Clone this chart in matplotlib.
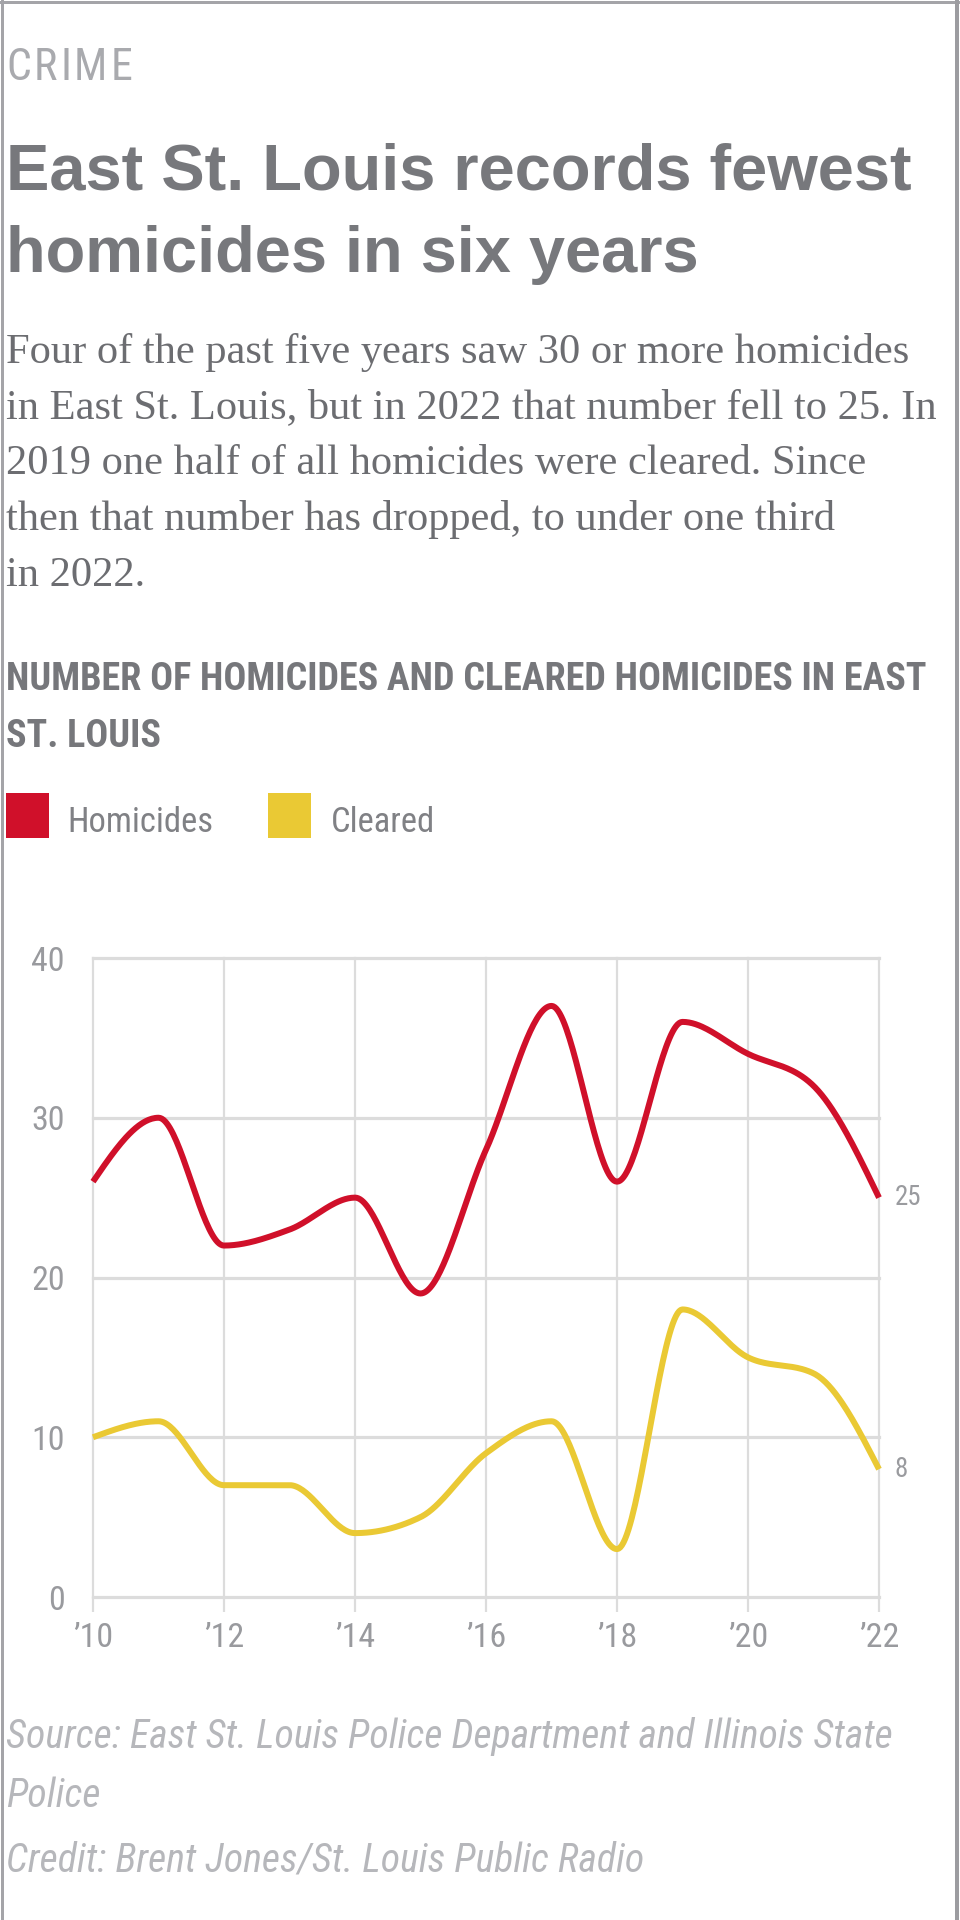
import matplotlib
matplotlib.use("Agg")
import matplotlib.pyplot as plt
import matplotlib.font_manager as fm
from matplotlib.lines import Line2D
import numpy as np

# ---------------- data ----------------
years = [2010, 2011, 2012, 2013, 2014, 2015, 2016, 2017, 2018, 2019, 2020, 2021, 2022]
homicides = [26, 30, 22, 23, 25, 19, 28, 37, 26, 36, 34, 32, 25]
cleared = [10, 11, 7, 7, 4, 5, 9, 11, 3, 18, 15, 14, 8]
series_names = ["Homicides", "Cleared"]
x_ticks = [2010, 2012, 2014, 2016, 2018, 2020, 2022]
x_tick_labels = ["\u201910", "\u201912", "\u201914", "\u201916", "\u201918", "\u201920", "\u201922"]
y_ticks = [0, 10, 20, 30, 40]

kicker = "CRIME"
title_lines = ["East St. Louis records fewest", "homicides in six years"]
para_lines = [
    "Four of the past five years saw 30 or more homicides",
    "in East St. Louis, but in 2022 that number fell to 25. In",
    "2019 one half of all homicides were cleared. Since",
    "then that number has dropped, to under one third",
    "in 2022.",
]
chart_title_lines = ["NUMBER OF HOMICIDES AND CLEARED HOMICIDES IN EAST", "ST. LOUIS"]
source_lines = ["Source: East St. Louis Police Department and Illinois State", "Police"]
credit_line = "Credit: Brent Jones/St. Louis Public Radio"

RED = "#d0102a"
YEL = "#eac934"

# ---------------- fonts ----------------
names = {f.name for f in fm.fontManager.ttflist}
COND = None
COND_STRETCH = "normal"
for n in ["Roboto Condensed", "Liberation Sans Narrow", "Open Sans Condensed", "Noto Sans Condensed", "Arial Narrow"]:
    if n in names:
        COND = n
        break
if COND is None:
    if any(f.name == "DejaVu Sans" and str(f.stretch) in ("condensed", "semi-condensed") for f in fm.fontManager.ttflist):
        COND = "DejaVu Sans"
        COND_STRETCH = "condensed"
    elif "Roboto" in names:
        COND = "Roboto"
    else:
        COND = "DejaVu Sans"
BOLD_SANS = "Liberation Sans" if "Liberation Sans" in names else "DejaVu Sans"
SERIF = "Liberation Serif" if "Liberation Serif" in names else "DejaVu Serif"

W, H = 960, 1920
fig = plt.figure(figsize=(W / 100, H / 100), dpi=100)
fig.patch.set_facecolor("white")
renderer = fig.canvas.get_renderer()


def px2pt(p):
    return p * 0.72


def put(x, y, s, size_px, **kw):
    kw.setdefault("va", "baseline")
    kw.setdefault("ha", "left")
    return fig.text(x / W, 1 - y / H, s, fontsize=px2pt(size_px), **kw)


def fit_size(s, target_w, **kw):
    t = put(0, 0, s, 40, **kw)
    w = t.get_window_extent(renderer).width
    t.remove()
    return 40 * target_w / w


def block(x, ys, lines, size_px, **kw):
    for yy, s in zip(ys, lines):
        put(x, yy, s, size_px, **kw)


cond_kw = dict(family=COND, stretch=COND_STRETCH)

# ---------------- frame ----------------
frame_c = "#a4a4a8"
fig.add_artist(Line2D([1.5 / W, 1.5 / W], [0, 1], transform=fig.transFigure, color=frame_c, lw=px2pt(3)))
fig.add_artist(Line2D([0, 1], [1 - 1.5 / H, 1 - 1.5 / H], transform=fig.transFigure, color=frame_c, lw=px2pt(3)))
fig.add_artist(Line2D([1 - 3 / W, 1 - 3 / W], [0, 1], transform=fig.transFigure, color="#9c9ca0", lw=px2pt(4)))

# ---------------- kicker (tracked letters) ----------------
kick_size = 44
widths = []
for ch in kicker:
    t = put(0, 0, ch, kick_size, weight="normal", **cond_kw)
    widths.append(t.get_window_extent(renderer).width)
    t.remove()
track = max(2.0, (126 - sum(widths)) / (len(kicker) - 1))
xk = 6
for ch, w in zip(kicker, widths):
    put(xk, 80, ch, kick_size, color="#a9aaae", **cond_kw)
    xk += w + track

# ---------------- title ----------------
ts = fit_size(title_lines[0], 906, family=BOLD_SANS, weight="bold")
block(6, [190, 272], title_lines, ts, family=BOLD_SANS, weight="bold", color="#77787c")

# ---------------- paragraph ----------------
ps = fit_size(para_lines[1], 931, family=SERIF)
block(6, [363, 418, 474, 530, 586], para_lines, ps, family=SERIF, color="#6c6d71")

# ---------------- chart title ----------------
cs = fit_size(chart_title_lines[0], 922, weight="bold", **cond_kw)
block(6, [690, 747], chart_title_lines, cs, weight="bold", color="#76777b", **cond_kw)

# ---------------- legend ----------------
ls = fit_size(series_names[0], 146, **cond_kw)
for (x0, col, name, tx) in [(6, RED, series_names[0], 67), (268, YEL, series_names[1], 331)]:
    fig.add_artist(plt.Rectangle((x0 / W, 1 - 838 / H), 43 / W, 45 / H, transform=fig.transFigure,
                                 color=col, lw=0))
    put(tx, 832, name, ls, color="#808185", **cond_kw)

# ---------------- chart ----------------
ax = fig.add_axes([93 / W, 1 - 1597 / H, (879 - 93) / W, (1597 - 958) / H])
ax.set_xlim(2010, 2022)
ax.set_ylim(0, 40)
for sp in ax.spines.values():
    sp.set_visible(False)
ax.set_facecolor("none")

grid_c = "#dcdcdc"
ax.set_yticks(y_ticks)
ax.set_xticks(x_ticks)
ax.set_xticklabels(x_tick_labels)
ax.grid(axis="y", color=grid_c, lw=px2pt(3.2))
ax.grid(axis="x", color=grid_c, lw=px2pt(2.2))
for gl in ax.get_ygridlines() + ax.get_xgridlines():
    gl.set_clip_on(False)
ax.set_axisbelow(True)
tick_size = 34
ax.tick_params(axis="y", length=0, pad=px2pt(28), labelsize=px2pt(tick_size), labelcolor="#999a9e")
ax.tick_params(axis="x", length=px2pt(15), width=px2pt(2.2), color=grid_c, pad=px2pt(10),
               labelsize=px2pt(tick_size), labelcolor="#999a9e")
for lab in ax.get_xticklabels() + ax.get_yticklabels():
    lab.set_family(COND)
    lab.set_stretch(COND_STRETCH)


def monotone_curve(xv, yv, n=40):
    x = np.asarray(xv, float)
    y = np.asarray(yv, float)
    h = np.diff(x)
    s = np.diff(y) / h
    m = np.zeros_like(y)
    for i in range(1, len(y) - 1):
        h0, h1, s0, s1 = h[i - 1], h[i], s[i - 1], s[i]
        p = (s0 * h1 + s1 * h0) / (h0 + h1)
        m[i] = (np.sign(s0) + np.sign(s1)) * min(abs(s0), abs(s1), 0.5 * abs(p))
    m[0] = (3 * s[0] - m[1]) / 2
    m[-1] = (3 * s[-1] - m[-2]) / 2
    xs, ys = [], []
    for i in range(len(x) - 1):
        t = np.linspace(0, 1, n, endpoint=(i == len(x) - 2))
        dx = h[i]
        p0 = np.array([x[i], y[i]])
        p3 = np.array([x[i + 1], y[i + 1]])
        p1 = np.array([x[i] + dx / 3, y[i] + m[i] * dx / 3])
        p2 = np.array([x[i + 1] - dx / 3, y[i + 1] - m[i + 1] * dx / 3])
        b = ((1 - t) ** 3)[:, None] * p0 + (3 * (1 - t) ** 2 * t)[:, None] * p1 + \
            (3 * (1 - t) * t ** 2)[:, None] * p2 + (t ** 3)[:, None] * p3
        xs.append(b[:, 0])
        ys.append(b[:, 1])
    return np.concatenate(xs), np.concatenate(ys)


for vals, col in [(cleared, YEL), (homicides, RED)]:
    cx, cy = monotone_curve(years, vals)
    ax.plot(cx, cy, color=col, lw=px2pt(6), clip_on=False, solid_capstyle="butt", solid_joinstyle="round", zorder=3)
    ax.annotate(str(vals[-1]), xy=(years[-1], vals[-1]), xytext=(px2pt(16), 0), textcoords="offset points",
                va="center", ha="left", fontsize=px2pt(27), color="#9a9b9f", family=COND, stretch=COND_STRETCH)

# ---------------- source / credit ----------------
ss = fit_size(source_lines[0], 888, style="italic", **cond_kw)
block(6, [1748, 1807], source_lines, ss, style="italic", color="#b6b7bb", **cond_kw)
put(6, 1872, credit_line, ss, style="italic", color="#b6b7bb", **cond_kw)

fig.savefig("out.png", dpi=100, facecolor="white")
